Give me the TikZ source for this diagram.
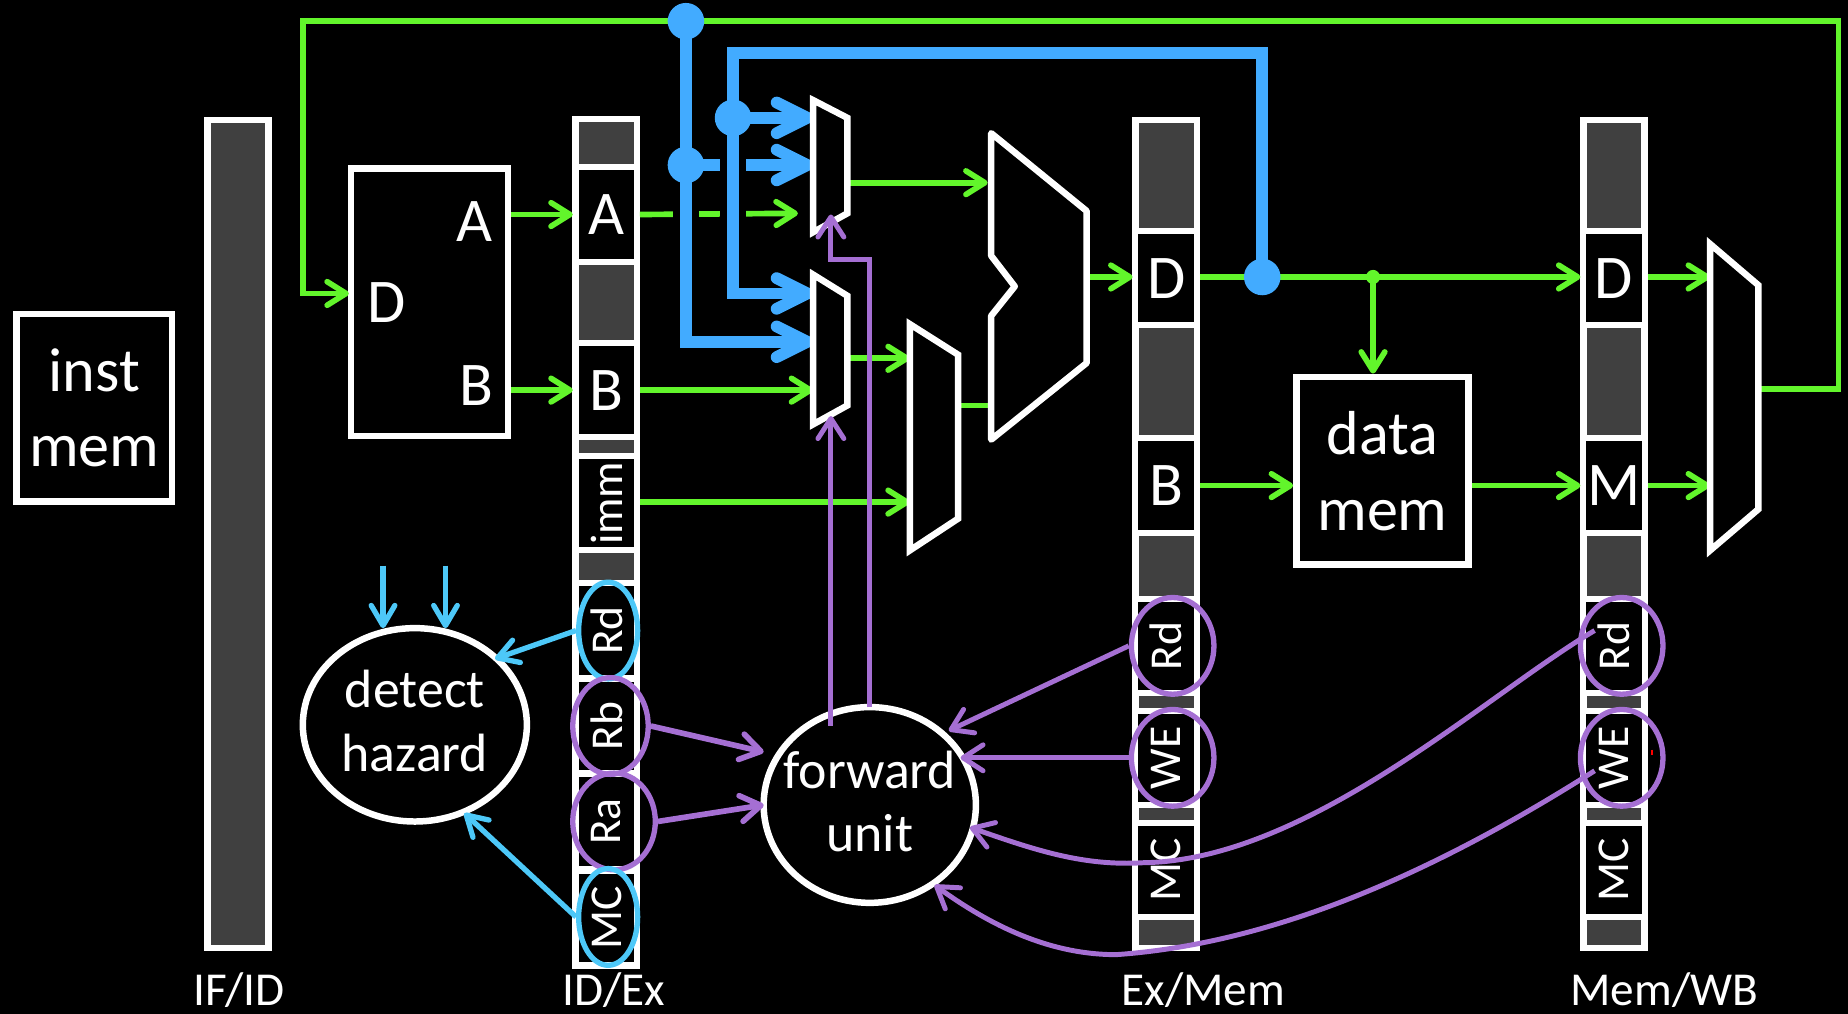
\documentclass[tikz,border=0pt]{standalone}
\usepackage{fontspec}
\setmainfont{Carlito}
\usetikzlibrary{arrows.meta,shapes.geometric}
\definecolor{wiregreen}{HTML}{62F52B}
\definecolor{fwdblue}{HTML}{42ABFF}
\definecolor{hazblue}{HTML}{4DC8F8}
\definecolor{fwdpurple}{HTML}{A56FD3}
\definecolor{bargray}{HTML}{404040}
\tikzset{
  bigtext/.style={font=\fontsize{15}{18.3}\selectfont,text=white},
  unittext/.style={font=\fontsize{13}{15.4}\selectfont,text=white,align=center},
  smalltext/.style={font=\fontsize{11}{13}\selectfont,text=white},
  labeltext/.style={font=\fontsize{11.4}{13}\selectfont,text=white},
  box/.style={draw=white,line width=0.055cm,fill=black,inner sep=0pt,align=center,bigtext},
  bar/.style={draw=white,line width=0.055cm,fill=bargray,minimum width=0.52cm,inner sep=0pt},
  cell/.style={draw=white,line width=0.05cm,fill=black,minimum width=0.52cm,minimum height=0.8cm,inner sep=0pt},
  unit/.style={draw=white,line width=0.055cm,ellipse,inner sep=0pt},
  mux/.style={draw=white,line width=0.055cm,line join=miter},
  oval/.style={ellipse,line width=0.045cm,inner sep=0pt,minimum height=0.82cm},
  wire/.style={draw=wiregreen,line width=0.048cm},
  wirearrow/.style={wire,-{Straight Barb[length=1.6mm,width=2mm,round]}},
  gap/.style={draw=black,line width=0.22cm},
  fwdwire/.style={draw=fwdblue,line width=0.1cm},
  fwdarrow/.style={fwdwire,-{Straight Barb[length=2.6mm,width=2.6mm,round]}},
  bluedot/.style={circle,fill=fwdblue,minimum size=0.31cm,inner sep=0pt},
  hazarrow/.style={draw=hazblue,line width=0.045cm,-{Straight Barb[length=1.7mm,width=2mm,round]}},
  fwdline/.style={draw=fwdpurple,line width=0.042cm},
  fwdtip/.style={fwdline,-{Straight Barb[length=1.7mm,width=2.2mm,round]}}
}
\begin{document}
\begin{tikzpicture}[x=0.01cm,y=-0.01cm]
\fill[black] (0,0) rectangle (1568,860);
\useasboundingbox (0,0) rectangle (1568,860);

\node[bar,minimum height=7.02cm] (ifid) at (202,453) {};
\node[bar,minimum height=7.18cm] (idex) at (514.5,460) {};
\node[bar,minimum height=7.02cm] (exmem) at (989.5,453) {};
\node[bar,minimum height=7.02cm] (memwb) at (1369.5,453) {};

\node[cell,bigtext] (idA) at (514.5,182) {A};
\node[cell,bigtext] (idB) at (514.5,331) {B};
\node[cell,smalltext] (idImm) at (514.5,427) {\rotatebox{90}{imm}};
\node[cell,smalltext] (idRd) at (514.5,535) {\rotatebox{90}{Rd}};
\node[cell,smalltext] (idRb) at (514.5,616) {\rotatebox{90}{Rb}};
\node[cell,smalltext] (idRa) at (514.5,697) {\rotatebox{90}{Ra}};
\node[cell,smalltext] (idMC) at (514.5,779) {\rotatebox{90}{MC}};

\node[cell,bigtext] (exD) at (989.5,236) {D};
\node[cell,bigtext] (exB) at (989.5,412) {B};
\node[cell,smalltext] (exRd) at (989.5,548) {\rotatebox{90}{Rd}};
\node[cell,smalltext] (exWE) at (989.5,643) {\rotatebox{90}{WE}};
\node[cell,smalltext] (exMC) at (989.5,738) {\rotatebox{90}{MC}};

\node[cell,bigtext] (wbD) at (1369.5,236) {D};
\node[cell,bigtext] (wbM) at (1369.5,412) {M};
\node[cell,smalltext] (wbRd) at (1369.5,548) {\rotatebox{90}{Rd}};
\node[cell,smalltext] (wbWE) at (1369.5,643) {\rotatebox{90}{WE}};
\node[cell,smalltext] (wbMC) at (1369.5,738) {\rotatebox{90}{MC}};

\node[box,minimum width=1.32cm,minimum height=1.59cm] (imem) at (80,346) {inst\\mem};
\node[box,minimum width=1.33cm,minimum height=2.27cm] (rf) at (364.5,256.5) {};
\node[box,minimum width=1.46cm,minimum height=1.59cm] (dmem) at (1173,399.5) {data\\mem};
\node[bigtext] (rfD) at (328,257) {D};
\node[bigtext] (rfA) at (403,188) {A};
\node[bigtext] (rfB) at (404,327) {B};

\node[unit,minimum width=1.9cm,minimum height=1.64cm] (hazard) at (352,615) {};
\node[unit,minimum width=1.8cm,minimum height=1.66cm] (fwd) at (738,683) {};
\node[unittext] (hazardText) at (352,612) {detect\\hazard};
\node[unittext] (fwdText) at (738,680) {forward\\unit};

\node[oval,draw=hazblue,minimum width=0.5cm] (ovIdRd) at (516,535) {};
\node[oval,draw=fwdpurple,minimum width=0.64cm] (ovIdRb) at (518,616) {};
\node[oval,draw=fwdpurple,minimum width=0.7cm] (ovIdRa) at (521,697) {};
\node[oval,draw=hazblue,minimum width=0.5cm] (ovIdMC) at (516,778) {};
\node[oval,draw=fwdpurple,minimum width=0.7cm] (ovExRd) at (995,548) {};
\node[oval,draw=fwdpurple,minimum width=0.7cm] (ovExWE) at (995,643) {};
\node[oval,draw=fwdpurple,minimum width=0.7cm] (ovWbRd) at (1376,548) {};
\node[oval,draw=fwdpurple,minimum width=0.7cm] (ovWbWE) at (1376,643) {};

\node[labeltext] (lblIfid) at (203,840) {IF/ID};
\node[labeltext] (lblIdex) at (521,840) {ID/Ex};
\node[labeltext] (lblExmem) at (1021,840) {Ex/Mem};
\node[labeltext] (lblMemwb) at (1412,840) {Mem/WB};

\coordinate (muxAa) at (690,100);
\coordinate (muxAb) at (690,140);
\coordinate (muxAc) at (677,181);
\coordinate (muxAs) at (705,182);
\coordinate (muxAo) at (719,155);
\coordinate (muxBa) at (690,249);
\coordinate (muxBb) at (690,290);
\coordinate (muxBc) at (690,331);
\coordinate (muxBs) at (705,353);
\coordinate (muxBo) at (719,304);
\coordinate (muxCa) at (772,304);
\coordinate (muxCb) at (772,426);
\coordinate (muxCo) at (813,344);
\coordinate (aluA) at (838,155);
\coordinate (aluB) at (840,344);
\coordinate (aluO) at (921,235);
\coordinate (wbmuxA) at (1451,235);
\coordinate (wbmuxB) at (1451,412);
\coordinate (wbmuxO) at (1492,330);
\coordinate (topR) at (1560,18);
\coordinate (topL) at (257,18);
\coordinate (rfIn) at (296,249);
\coordinate (dmemTop) at (1165,317);
\coordinate (bendA) at (738,220);
\coordinate (hazInA) at (325,480);
\coordinate (hazEndA) at (325,533);
\coordinate (hazInB) at (378,480);
\coordinate (hazEndB) at (378,533);
\coordinate (hazRd) at (420,559);
\coordinate (hazMC) at (394,690);
\coordinate (fwdRb) at (648,638);
\coordinate (fwdRa) at (648,683);
\coordinate (fwdExRd) at (805,620);
\coordinate (fwdExWE) at (815,643);
\coordinate (fwdWbRd) at (823,702);
\coordinate (fwdWbWE) at (793,751);
\coordinate (wbRdEnd) at (1353,535);
\coordinate (wbWEEnd) at (1353,654);
\coordinate (fwdStartA) at (705,616);
\coordinate (fwdStartB) at (738,600);
\coordinate (topHub) at (582,18);
\coordinate (midHub) at (582,140);
\coordinate (aluHub) at (622,100);
\coordinate (exHub) at (1071,235);
\coordinate (backBend) at (622,45);

\draw[wirearrow] (wbmuxO) -| (topR) -- (topL) |- (rfIn);
\draw[wirearrow] (rf.east |- idA) -- (idA.west);
\draw[wirearrow] (rf.east |- idB) -- (idB.west);
\draw[wirearrow] (idA.east) -- (muxAc);
\draw[wirearrow] (idB.east) -- (muxBc);
\draw[wirearrow] (idImm.east |- muxCb) -- (muxCb);
\draw[wirearrow] (muxAo) -- (aluA);
\draw[wirearrow] (muxBo) -- (muxCa);
\draw[wire] (muxCo) -- (aluB);
\draw[wirearrow] (aluO) -- (exD.west |- aluO);
\draw[wirearrow] (exD.east |- aluO) -- (wbD.west |- aluO);
\draw[wirearrow] (dmemTop |- aluO) -- (dmemTop);
\draw[wirearrow] (exB.east) -- (dmem.west |- exB);
\draw[wirearrow] (dmem.east |- wbM) -- (wbM.west);
\draw[wirearrow] (wbD.east |- aluO) -- (wbmuxA);
\draw[wirearrow] (wbM.east) -- (wbmuxB);
\node[circle,fill=wiregreen,minimum size=0.12cm,inner sep=0pt] (dmemDot) at (dmemTop |- aluO) {};

\draw[fwdarrow] (midHub) -- (muxAb);
\draw[gap] (topHub) -- (582,289);
\draw[gap] (backBend) -- (622,249);
\draw[fwdarrow] (topHub) |- (muxBb);
\draw[fwdarrow] (exHub) |- (backBend) |- (muxBa);
\draw[fwdarrow] (aluHub) -- (muxAa);
\node[bluedot] (dotTop) at (topHub) {};
\node[bluedot] (dotMid) at (midHub) {};
\node[bluedot] (dotAlu) at (aluHub) {};
\node[bluedot] (dotEx) at (exHub) {};

\draw[mux] (690,85) -- (719,100) -- (719,181) -- (690,197) -- cycle;
\draw[mux] (690,233) -- (719,251) -- (719,344) -- (690,360) -- cycle;
\draw[mux] (772,275) -- (813,301) -- (813,440) -- (772,467) -- cycle;
\draw[mux,line join=round] (841,113) -- (922,179) -- (922,308) -- (841,373) -- (841,268) -- (861,243) -- (841,217) -- cycle;
\draw[mux] (1451,207) -- (1492,242) -- (1492,432) -- (1451,467) -- cycle;

\draw[hazarrow] (hazInA) -- (hazEndA);
\draw[hazarrow] (hazInB) -- (hazEndB);
\draw[hazarrow] (ovIdRd.west) -- (hazRd);
\draw[hazarrow] (ovIdMC.west) -- (hazMC);

\draw[fwdtip,line width=0.048cm] (ovIdRb.east) -- (fwdRb);
\draw[fwdtip,line width=0.048cm] (ovIdRa.east) -- (fwdRa);
\draw[fwdtip] (fwdStartA) -- (muxBs);
\draw[fwdtip] (fwdStartB) -- (bendA) -| (muxAs);
\draw[fwdtip] (ovExRd.west) -- (fwdExRd);
\draw[fwdtip] (ovExWE.west) -- (fwdExWE);
\draw[fwdtip] (wbRdEnd) .. controls (1260,590) and (1110,730) .. (970,732) .. controls (920,735) and (880,722) .. (fwdWbRd);
\draw[fwdtip] (wbWEEnd) .. controls (1230,732) and (1090,800) .. (947,810) .. controls (890,810) and (840,785) .. (fwdWbWE);
\draw[red,line width=0.015cm] (1402,636) -- (1402,641);
\end{tikzpicture}
\end{document}
